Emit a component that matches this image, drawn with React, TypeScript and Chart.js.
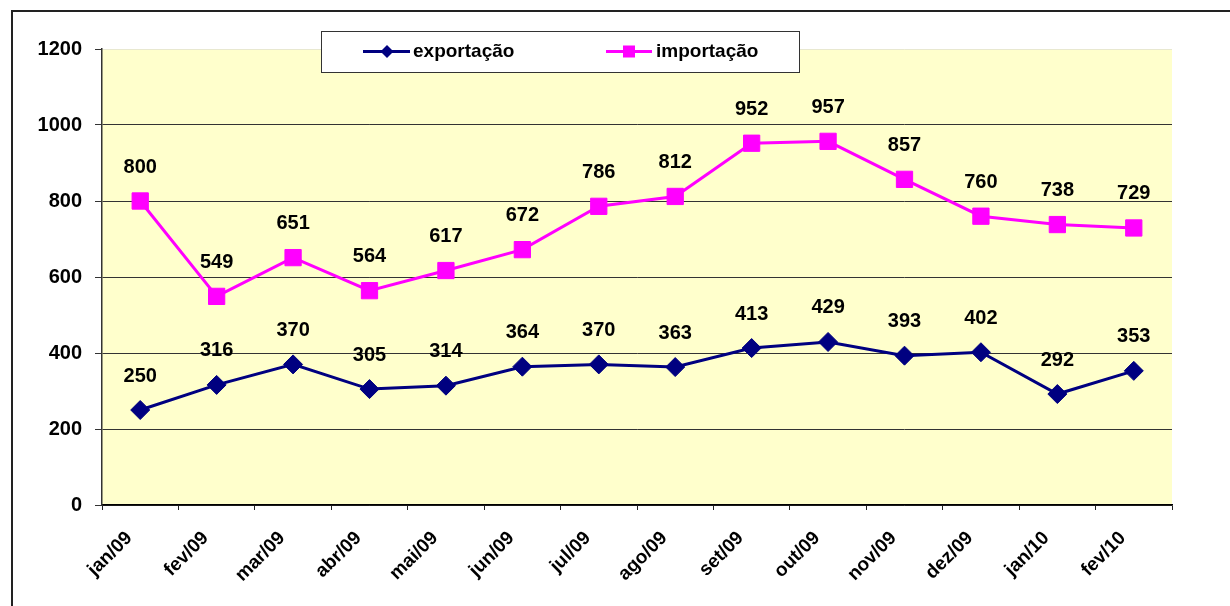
import React, { useEffect, useRef } from "react";
import { Chart, registerables } from "chart.js";

Chart.register(...registerables);

const categories = ["jan/09", "fev/09", "mar/09", "abr/09", "mai/09", "jun/09", "jul/09", "ago/09", "set/09", "out/09", "nov/09", "dez/09", "jan/10", "fev/10"];
const exportacao = [250, 316, 370, 305, 314, 364, 370, 363, 413, 429, 393, 402, 292, 353];
const importacao = [800, 549, 651, 564, 617, 672, 786, 812, 952, 957, 857, 760, 738, 729];
const seriesNames = ["exportação", "importação"];
const yMin = 0;
const yMax = 1200;
const yStep = 200;

const FONT = "'Liberation Sans', Arial, sans-serif";
const NAVY = "#000080";
const MAGENTA = "#FF00FF";

const framePlugin = {
  id: "frame",
  beforeDraw(chart: any) {
    const { ctx, chartArea } = chart;
    ctx.save();
    ctx.fillStyle = "#ffffff";
    ctx.fillRect(0, 0, chart.width, chart.height);
    ctx.fillStyle = "#FFFFCC";
    ctx.fillRect(chartArea.left, chartArea.top, chartArea.right - chartArea.left, chartArea.bottom - chartArea.top);
    ctx.strokeStyle = "#222";
    ctx.lineWidth = 2;
    ctx.strokeRect(12, 11, chart.width + 20, chart.height + 20);
    ctx.restore();
  },
};

const labelsPlugin = {
  id: "valueLabels",
  afterDatasetsDraw(chart: any) {
    const { ctx } = chart;
    ctx.save();
    ctx.font = `bold 20px ${FONT}`;
    ctx.fillStyle = "#000";
    ctx.textAlign = "center";
    ctx.textBaseline = "middle";
    chart.data.datasets.forEach((ds: any, i: number) => {
      const meta = chart.getDatasetMeta(i);
      meta.data.forEach((pt: any, j: number) => {
        ctx.fillText(String(ds.data[j]), pt.x, pt.y - 34);
      });
    });
    ctx.restore();
  },
};

const legendPlugin = {
  id: "customLegend",
  afterDraw(chart: any) {
    const { ctx } = chart;
    ctx.save();
    ctx.fillStyle = "#fff";
    ctx.fillRect(321, 31, 478, 41);
    ctx.strokeStyle = "#333";
    ctx.lineWidth = 1;
    ctx.strokeRect(321.5, 31.5, 478, 41);
    const cy = 51.5;
    // exportação
    ctx.strokeStyle = NAVY;
    ctx.lineWidth = 3;
    ctx.beginPath();
    ctx.moveTo(363, cy);
    ctx.lineTo(410, cy);
    ctx.stroke();
    ctx.fillStyle = NAVY;
    ctx.beginPath();
    ctx.moveTo(387, cy - 6.5);
    ctx.lineTo(393.5, cy);
    ctx.lineTo(387, cy + 6.5);
    ctx.lineTo(380.5, cy);
    ctx.closePath();
    ctx.fill();
    // importação
    ctx.strokeStyle = MAGENTA;
    ctx.beginPath();
    ctx.moveTo(606, cy);
    ctx.lineTo(652, cy);
    ctx.stroke();
    ctx.fillStyle = MAGENTA;
    ctx.fillRect(623, cy - 6, 12, 12);
    ctx.font = `bold 19px ${FONT}`;
    ctx.fillStyle = "#000";
    ctx.textAlign = "left";
    ctx.textBaseline = "middle";
    ctx.fillText(seriesNames[0], 413, cy);
    ctx.fillText(seriesNames[1], 656, cy);
    ctx.restore();
  },
};

export default function App() {
  const ref = useRef<HTMLCanvasElement>(null);
  useEffect(() => {
    if (!ref.current) return;
    const chart = new Chart(ref.current, {
      type: "line",
      data: {
        labels: categories,
        datasets: [
          {
            label: seriesNames[0],
            data: exportacao,
            borderColor: NAVY,
            backgroundColor: NAVY,
            borderWidth: 3,
            pointStyle: "rectRot",
            pointRadius: 9.5,
            pointBorderWidth: 1,
            pointBackgroundColor: NAVY,
            pointBorderColor: NAVY,
            tension: 0,
          },
          {
            label: seriesNames[1],
            data: importacao,
            borderColor: MAGENTA,
            backgroundColor: MAGENTA,
            borderWidth: 3,
            pointStyle: "rect",
            pointRadius: 11.5,
            pointBorderWidth: 1,
            pointBackgroundColor: MAGENTA,
            pointBorderColor: MAGENTA,
            tension: 0,
          },
        ],
      },
      options: {
        responsive: false,
        animation: false,
        layout: { padding: { left: 0, top: 49, right: 58, bottom: 0 } },
        plugins: { legend: { display: false }, tooltip: { enabled: false }, title: { display: false } },
        scales: {
          x: {
            offset: true,
            grid: {
              offset: true,
              drawOnChartArea: false,
              tickLength: 5,
              tickColor: "#222",
              tickWidth: 1,
            },
            border: { color: "#000", width: 1.5 },
            ticks: {
              autoSkip: false,
              minRotation: 45,
              maxRotation: 45,
              labelOffset: -11,
              padding: 17,
              color: "#000",
              font: { family: FONT, size: 19, weight: "bold" },
            },
            afterFit(scale: any) {
              scale.height = 101;
              scale.paddingLeft = 0;
              scale.paddingRight = 0;
            },
          },
          y: {
            min: yMin,
            max: yMax,
            grid: {
              color: (c: any) => (c.tick && c.tick.value === yMax ? "#e8e8d0" : "#333"),
              tickColor: "#333",
              tickLength: 7,
              lineWidth: 1,
            },
            border: { color: "#333", width: 1.5 },
            ticks: {
              stepSize: yStep,
              padding: 13,
              color: "#000",
              font: { family: FONT, size: 20, weight: "bold" },
              callback: (v: any) => String(v),
            },
            afterFit(scale: any) {
              scale.width = 102;
              scale.paddingTop = 0;
              scale.paddingBottom = 0;
            },
          },
        },
      },
      plugins: [framePlugin, labelsPlugin, legendPlugin],
    });
    return () => chart.destroy();
  }, []);
  return (
    <div style={{ position: "absolute", left: 0, top: 0, width: 1230, height: 606 }}>
      <canvas ref={ref} width={1230} height={606} style={{ display: "block" }} />
    </div>
  );
}
